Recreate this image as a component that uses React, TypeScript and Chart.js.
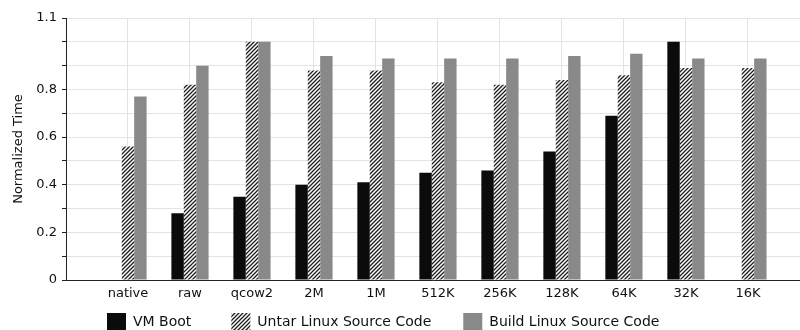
import React, { useEffect, useRef } from 'react';
import { Chart, registerables } from 'chart.js';

Chart.register(...registerables);

const categories = ['native', 'raw', 'qcow2', '2M', '1M', '512K', '256K', '128K', '64K', '32K', '16K'];
const vmBoot = [null, 0.28, 0.35, 0.40, 0.41, 0.45, 0.46, 0.54, 0.69, 1.0, null];
const untar = [0.56, 0.82, 1.0, 0.88, 0.88, 0.83, 0.82, 0.84, 0.86, 0.89, 0.89];
const build = [0.77, 0.90, 1.0, 0.94, 0.93, 0.93, 0.93, 0.94, 0.95, 0.93, 0.93];
const seriesNames = ['VM Boot', 'Untar Linux Source Code', 'Build Linux Source Code'];
const yTickLabels = ['0', '0.2', '0.4', '0.6', '0.8', '1.1'];
const yMax = 1.1;
const yStep = 0.1;

const FONT = '"DejaVu Sans", Verdana, sans-serif';

function makeHatch(): CanvasPattern | string {
  const c = document.createElement('canvas');
  c.width = 4;
  c.height = 4;
  const g = c.getContext('2d');
  if (!g) return '#888';
  g.fillStyle = '#ffffff';
  g.fillRect(0, 0, 4, 4);
  g.strokeStyle = '#1e1e1e';
  g.lineWidth = 1.3;
  g.beginPath();
  g.moveTo(-1, 5);
  g.lineTo(5, -1);
  g.moveTo(-1, 1);
  g.lineTo(1, -1);
  g.moveTo(3, 5);
  g.lineTo(5, 3);
  g.stroke();
  const p = g.createPattern(c, 'repeat');
  return p || '#888';
}

const legendPlugin = {
  id: 'bottomLegend',
  afterDraw(chart: any) {
    const ctx = chart.ctx;
    const box = 19;
    const gaps = [40, 32];
    let x = 107;
    const y = chart.height - 17;
    ctx.save();
    ctx.font = `14px ${FONT}`;
    ctx.textBaseline = 'middle';
    ctx.textAlign = 'left';
    chart.data.datasets.forEach((ds: any, i: number) => {
      ctx.fillStyle = ds.backgroundColor;
      ctx.fillRect(x, y, box, box);
      ctx.fillStyle = '#111';
      ctx.fillText(ds.label, x + box + 7, y + box / 2);
      x += box + 7 + ctx.measureText(ds.label).width + (gaps[i] ?? 0);
    });
    ctx.restore();
  },
};

export default function App() {
  const ref = useRef<HTMLCanvasElement | null>(null);

  useEffect(() => {
    if (!ref.current) return;
    Chart.defaults.font.family = FONT;
    const hatch = makeHatch();
    const toPts = (arr: (number | null)[]) => arr.map((v, i) => ({ x: i + 1, y: v }));
    const xMax = 11.84;

    const chart = new Chart(ref.current, {
      type: 'bar',
      data: {
        datasets: [
          { label: seriesNames[0], data: toPts(vmBoot) as any, backgroundColor: '#0b0b0b', borderWidth: 0 },
          { label: seriesNames[1], data: toPts(untar) as any, backgroundColor: hatch as any, borderWidth: 0 },
          { label: seriesNames[2], data: toPts(build) as any, backgroundColor: '#898989', borderWidth: 0 },
        ],
      },
      options: {
        animation: false,
        responsive: true,
        maintainAspectRatio: false,
        devicePixelRatio: 1,
        layout: { padding: { top: 18, right: 0, bottom: 0, left: 0 } },
        datasets: { bar: { categoryPercentage: 0.6, barPercentage: 1.0 } },
        plugins: { legend: { display: false }, tooltip: { enabled: false } },
        scales: {
          x: {
            type: 'linear',
            min: 0,
            max: xMax,
            offset: false,
            afterFit: (s: any) => { s.height = 50; },
            grid: { color: '#e3e3e3', lineWidth: 1, drawTicks: false, offset: false },
            border: { color: '#222', width: 1 },
            ticks: {
              stepSize: 1,
              includeBounds: false,
              autoSkip: false,
              maxRotation: 0,
              padding: 6,
              color: '#111',
              font: { size: 13 },
              callback: (v: any) => categories[Math.round(Number(v)) - 1] ?? '',
            },
          },
          y: {
            min: 0,
            max: yMax,
            afterFit: (s: any) => { s.width = 66; },
            grid: { color: '#e3e3e3', lineWidth: 1, tickColor: '#222', tickLength: 4 },
            border: { color: '#222', width: 1 },
            ticks: {
              stepSize: yStep,
              autoSkip: false,
              padding: 5,
              color: '#111',
              font: { size: 13 },
              callback: (v: any) => {
                const n = Number(v);
                const s = Math.abs(n) < 1e-9 ? '0' : n.toFixed(1);
                return yTickLabels.includes(s) ? s : '';
              },
            },
            title: {
              display: true,
              text: 'Normalized Time',
              color: '#111',
              font: { size: 13 },
              padding: { top: 11, bottom: 0 },
            },
          },
        },
      },
      plugins: [legendPlugin],
    });
    return () => chart.destroy();
  }, []);

  return (
    <div style={{ position: 'absolute', left: 0, top: 0, width: 800, height: 330, background: '#fff' }}>
      <canvas ref={ref} />
    </div>
  );
}
